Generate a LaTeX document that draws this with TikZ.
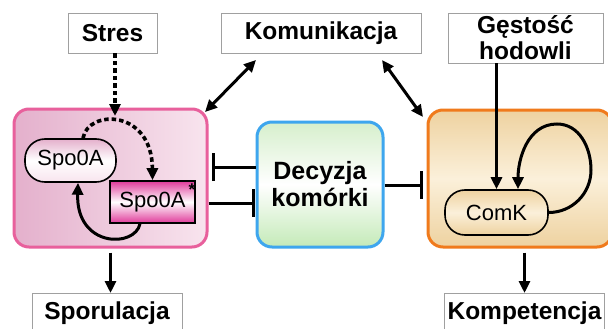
\documentclass[tikz,border=0pt]{standalone}
\usepackage{fontspec}
\setmainfont{Liberation Sans}
\usetikzlibrary{arrows.meta,calc}
\definecolor{pinkborder}{HTML}{E8609C}
\definecolor{pinkL}{HTML}{E4B0CC}
\definecolor{pinkR}{HTML}{F8E4EE}
\definecolor{blueborder}{HTML}{3EA6EE}
\definecolor{greenT}{HTML}{D6EFCC}
\definecolor{greenB}{HTML}{C4EAB8}
\definecolor{orangeborder}{HTML}{F07A1C}
\definecolor{tanA}{HTML}{EED2A0}
\definecolor{tanB}{HTML}{FBF0DA}
\definecolor{magenta1}{HTML}{E03A9A}
\definecolor{labelgray}{HTML}{A0A0A0}
\begin{document}
\begin{tikzpicture}[x=1pt,y=-1pt,
  lbl/.style={draw=labelgray, line width=0.8pt, fill=white, inner sep=0pt, align=center,
              font=\bfseries\fontsize{24.5}{28}\selectfont},
  bigbox/.style={rectangle, rounded corners=15pt, line width=3pt, inner sep=0pt},
  pill/.style={rectangle, rounded corners=20pt, draw=black, line width=1.6pt, inner sep=0pt,
               font=\fontsize{22}{24}\selectfont},
  conn/.style={line width=3pt, -{Triangle[length=12pt,width=11pt]}},
  dconn/.style={line width=3pt, {Triangle[length=12pt,width=11pt]}-{Triangle[length=12pt,width=11pt]}},
  dotconn/.style={line width=3.6pt, dash pattern=on 4.5pt off 3pt, -{Triangle[length=12pt,width=11pt]}},
  inhib/.style={line width=3pt, -{Bar[width=28pt,line width=3pt]}}
]
\clip (0,0) rectangle (608,329);
\fill[white] (0,0) rectangle (608,329);

% top labels
\node[lbl, minimum width=89pt, minimum height=40pt] (stres) at (112.5,33) {Stres};
\node[lbl, minimum width=200pt, minimum height=40pt] (kom) at (321,33) {Komunikacja};
\node[lbl, minimum width=155pt, minimum height=50pt, font=\bfseries\fontsize{24.5}{26}\selectfont] (gest) at (525.5,38) {Gęstość\\hodowli};

% big boxes
\node[bigbox, draw=pinkborder, left color=pinkL, right color=pinkR,
      minimum width=193pt, minimum height=138pt] (pink) at (110.5,178) {};
\node[bigbox, draw=blueborder, top color=greenT, bottom color=greenB, middle color=white,
      minimum width=126pt, minimum height=125pt, align=center,
      font=\bfseries\fontsize{25}{27}\selectfont] (blue) at (320,184.5) {Decyzja\\komórki};
\node[bigbox, draw=orangeborder, top color=tanA, bottom color=tanA, middle color=tanB,
      minimum width=184pt, minimum height=137pt] (orange) at (520,178.5) {};

% inner nodes
\node[pill, top color=pinkL, bottom color=pinkR, middle color=white,
      minimum width=91pt, minimum height=43pt] (spo) at (70.5,160.5) {Spo0A};
\node[rectangle, draw=black, line width=1.6pt, inner sep=0pt,
      top color=magenta1, bottom color=magenta1, middle color=white,
      minimum width=85pt, minimum height=42pt,
      font=\fontsize{22}{24}\selectfont] (spostar) at (152.5,202) {\raisebox{-3pt}{Spo0A}};
\node[inner sep=0pt, font=\bfseries\fontsize{17}{18}\selectfont] (ast) at (192,190) {*};
\node[pill, top color=tanA, bottom color=tanA, middle color=tanB,
      minimum width=103pt, minimum height=45pt] (comk) at (496.5,212.5) {ComK};

% bottom labels
\node[lbl, minimum width=150pt, minimum height=40pt, anchor=north] (spor) at (107,293) {Sporulacja};
\node[lbl, minimum width=160pt, minimum height=40pt, anchor=north] (komp) at (524.5,293) {Kompetencja};

% connectors
\coordinate (sx) at (115,116);
\draw[dotconn] (stres.south -| sx) -- (sx);

\coordinate (da1) at (256,60);
\coordinate (da2) at (205,112);
\draw[dconn] (da1) -- (da2);
\coordinate (db1) at (382,60);
\coordinate (db2) at (423,117);
\draw[dconn] (db1) -- (db2);

\draw[conn] (gest.south -| comk.north) -- (comk.north);

\draw[conn] (comk.east) to[out=0,in=-90] (591,170) to[out=90,in=0] (557,124)
            to[out=180,in=90] ($(comk.north)+(21.5,0)$);

\draw[dotconn] ($(spo.north)+(12.5,0)$) .. controls (88,109) and (152,109) .. (spostar.north);
\draw[conn] ($(spostar.south)+(-12.5,0)$) .. controls (135,248) and (76,248) .. ($(spo.south)+(7.5,0)$);

\coordinate (i1) at (212,167);
\draw[inhib] (i1 -| blue.west) -- (i1);
\coordinate (i2) at (255,203);
\draw[inhib] (i2 -| pink.east) -- (i2);
\coordinate (i3) at (423,185);
\draw[inhib] (i3 -| blue.east) -- (i3);

\draw[conn, shorten <=4pt] (pink.south) -- (pink.south |- spor.north);
\draw[conn, shorten <=4pt] (orange.south -| komp.north) -- (komp.north);
\end{tikzpicture}
\end{document}
